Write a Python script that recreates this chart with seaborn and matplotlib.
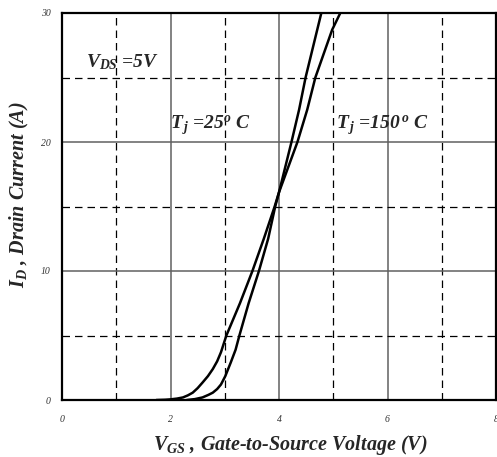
import matplotlib
matplotlib.use("Agg")

import numpy as np
import pandas as pd
import matplotlib.pyplot as plt
from matplotlib.ticker import MultipleLocator
import seaborn as sns

# ── Data ──────────────────────────────────────────────────────────────────────
vgs_25 = [2.30, 2.45, 2.59, 2.70, 2.78, 2.86, 2.93, 3.01, 3.11, 3.20, 3.27,
          3.44, 3.63, 3.80, 3.93, 4.00, 4.23, 4.37, 4.49, 4.78]
id_25 = [0.0, 0.07, 0.2, 0.4, 0.57, 0.85, 1.2, 1.85, 2.9, 3.9, 5.0,
         7.5, 10.0, 12.5, 15.0, 16.1, 20.0, 22.5, 25.0, 30.0]

vgs_150 = [1.74, 1.90, 2.00, 2.12, 2.23, 2.32, 2.41, 2.50, 2.59, 2.69, 2.78,
           2.86, 2.93, 3.03, 3.15, 3.28, 3.51, 3.72, 3.92, 4.00, 4.34, 4.52,
           4.67, 4.98, 5.13]
id_150 = [0.0, 0.02, 0.05, 0.11, 0.2, 0.36, 0.57, 0.92, 1.35, 1.85, 2.4,
          3.0, 3.7, 5.0, 6.2, 7.5, 10.0, 12.5, 15.0, 16.1, 20.0, 22.5,
          25.0, 28.7, 30.0]

x_ticks = [0, 2, 4, 6, 8]
y_ticks = [0, 10, 20, 30]

# ── Style ─────────────────────────────────────────────────────────────────────
sns.set_theme(style="white")
plt.rcParams.update({
    "font.family": ["Liberation Serif", "DejaVu Serif"],
    "mathtext.fontset": "custom",
    "mathtext.rm": "Liberation Serif:bold:italic",
    "mathtext.it": "Liberation Serif:bold:italic",
    "mathtext.bf": "Liberation Serif:bold:italic",
})

df = pd.concat([
    pd.DataFrame({"vgs": vgs_25, "id": id_25, "tj": "25"}),
    pd.DataFrame({"vgs": vgs_150, "id": id_150, "tj": "150"}),
], ignore_index=True)

fig = plt.figure(figsize=(4.97, 4.57), dpi=100)
ax = fig.add_axes([62 / 497, 57 / 457, 434 / 497, 387 / 457])

sns.lineplot(data=df, x="vgs", y="id", hue="tj", units="tj", estimator=None,
             sort=False, palette=["black", "black"], linewidth=1.8,
             legend=False, ax=ax)

ax.set_xlim(0, 8)
ax.set_ylim(0, 30)
ax.set_xticks(x_ticks)
ax.set_yticks(y_ticks)
ax.xaxis.set_minor_locator(MultipleLocator(1))
ax.yaxis.set_minor_locator(MultipleLocator(5))
ax.grid(which="major", linestyle="-", color="#606060", linewidth=1.1)
ax.grid(which="minor", linestyle=(0, (6, 4)), color="black", linewidth=0.9)
ax.set_axisbelow(True)
ax.tick_params(which="both", length=0)
ax.tick_params(axis="x", pad=11)
ax.tick_params(axis="y", pad=8)
for lbl in ax.get_xticklabels() + ax.get_yticklabels():
    lbl.set_fontsize(7)
    lbl.set_fontstyle("italic")
    lbl.set_color("#333333")

for side in ["left", "right", "top", "bottom"]:
    ax.spines[side].set_visible(True)
    ax.spines[side].set_color("black")
    ax.spines[side].set_linewidth(1.6)

label_kw = dict(fontsize=14.5, fontweight="bold", fontstyle="italic")
ax.set_xlabel(r"$V_{GS}$ , Gate-to-Source Voltage (V)", **label_kw)
ax.set_ylabel(r"$I_{D}$ , Drain Current (A)", **label_kw)
ax.xaxis.set_label_coords(0.525, -0.086)
ax.yaxis.set_label_coords(-0.071, 0.53)

ann_kw = dict(fontsize=14, fontweight="bold", fontstyle="italic",
              va="center", ha="left")
ax.text(0.45, 26.2, r"$V_{DS}$ =5V", **ann_kw)
ax.text(2.0, 21.3, r"$T_{\,j}$ =25$^{o}$ C", **ann_kw)
ax.text(5.05, 21.3, r"$T_{\,j}$ =150$^{\,o}$ C", **ann_kw)

plt.savefig("out.png", dpi=100)
plt.close()
